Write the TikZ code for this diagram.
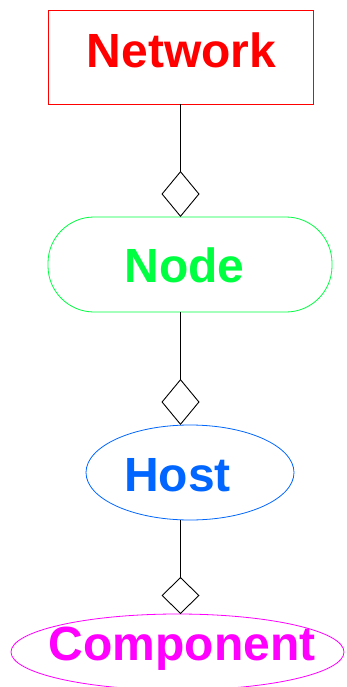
\documentclass[tikz,border=0pt]{standalone}
\usepackage{fontspec}
\setmainfont{Liberation Sans}
\usetikzlibrary{arrows.meta,shapes.geometric}
\definecolor{netred}{RGB}{255,0,0}
\definecolor{nodegreen}{RGB}{0,255,64}
\definecolor{hostblue}{RGB}{0,102,255}
\definecolor{compmagenta}{RGB}{255,0,255}

\begin{document}
\begin{tikzpicture}[x=1pt,y=-1pt,
  part/.style={draw,inner sep=0pt,outer sep=0pt,line width=0.8pt},
  title/.style={font=\fontsize{48}{50}\selectfont\bfseries,inner sep=0pt,
    text height=34.4pt,text depth=0pt},
  has/.style={line width=0.9pt,-{Diamond[open,length=#1,width=38pt]}}]
\useasboundingbox (0,0) rectangle (346,687);

% Shapes
\node[part,netred,rectangle,minimum width=265pt,minimum height=94pt] (network) at (180.5,57) {};
\node[part,nodegreen,rectangle,rounded corners=46pt,minimum width=284pt,minimum height=95pt] (node) at (190,264.5) {};
\node[part,hostblue,ellipse,minimum width=208pt,minimum height=95pt] (host) at (190,472.5) {};
\node[part,compmagenta,ellipse,minimum width=333pt,minimum height=76pt] (component) at (177.5,652) {};

% Names
\node[title,text=netred] (networktext) at (181.5,50.3) {Network};
\node[title,text=nodegreen] (nodetext) at (184.5,265.5) {Node};
\node[title,text=hostblue] (hosttext) at (177.5,474) {Host};
\node[title,text=compmagenta] (componenttext) at (182,643.5) {Component};

% Links
\draw[has=46pt] (network.south) -- (network.south |- node.north);
\draw[has=46pt] (network.south |- node.south) -- (network.south |- host.north);
\draw[has=37pt] (network.south |- host.south) -- (network.south |- component.north);
\end{tikzpicture}
\end{document}
